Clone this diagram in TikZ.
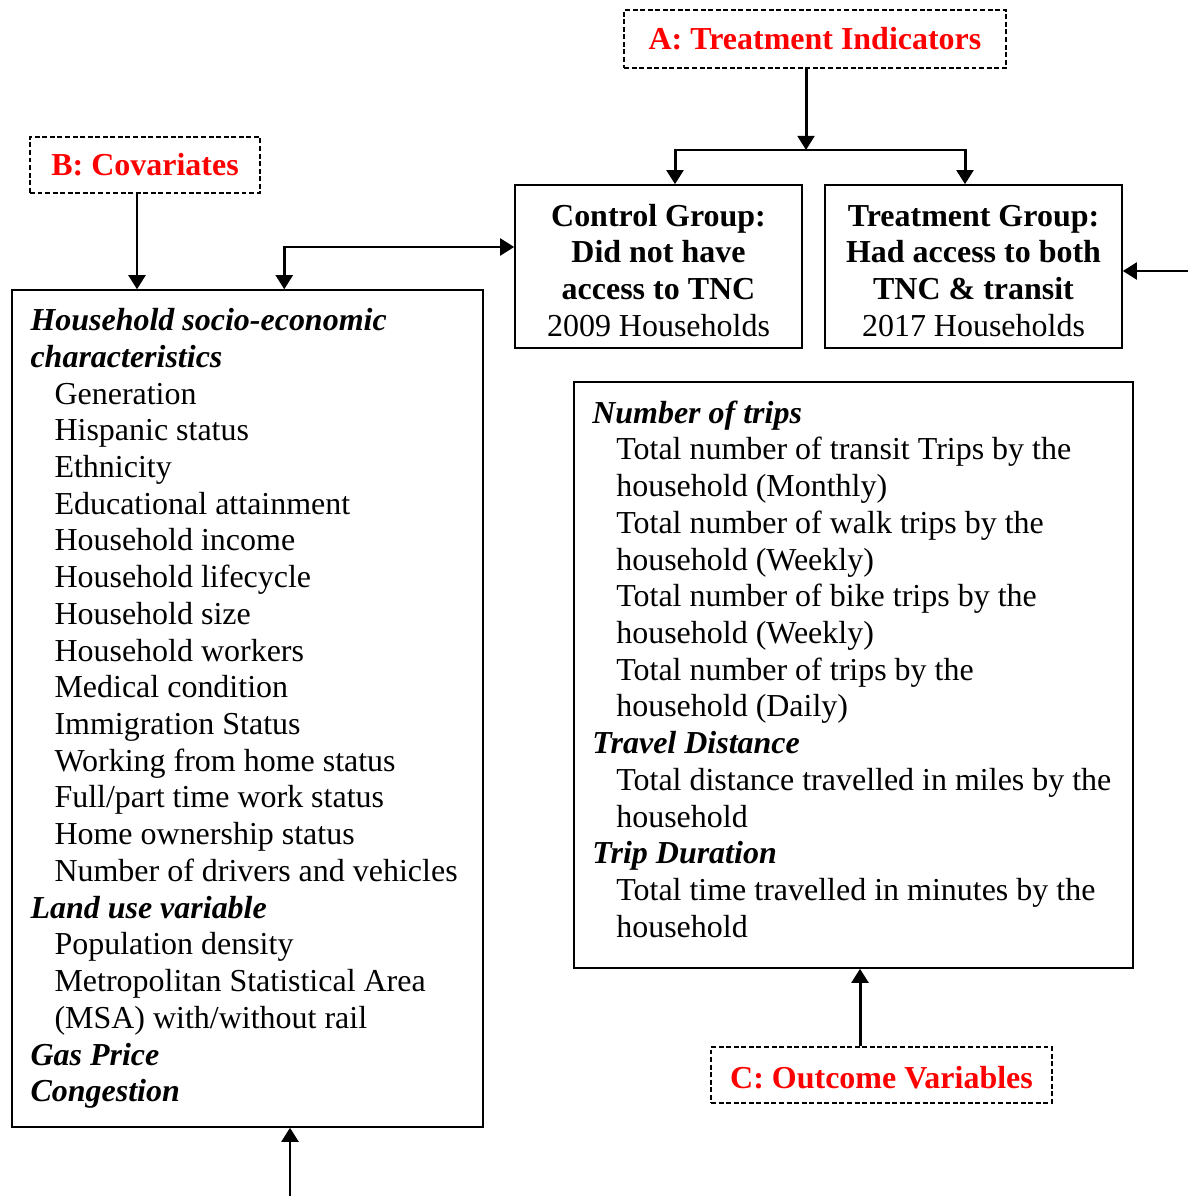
\documentclass[tikz,border=0pt]{standalone}
\usepackage{fontspec}
\setmainfont{Liberation Serif}
\usetikzlibrary{
    arrows.meta,
    calc,
    positioning
}
\tikzset{
    box/.style={draw, line width=0.9pt},
    tag/.style={draw, dash pattern=on 2.8pt off 1.5pt, line width=0.8pt, text=red, font=\fontsize{18.2}{20.9}\selectfont\bfseries},
    arr/.style={line width=1.7pt, -{Triangle[length=8pt, width=9.5pt]}},
    arrboth/.style={line width=1.7pt, {Triangle[length=8pt, width=9.5pt]}-{Triangle[length=8pt, width=9.5pt]}}
}
\newcommand{\ind}{\hspace*{0.48cm}}
\newcommand{\hd}[1]{\textbf{\textit{#1}}}
\newcommand{\plainsp}{\spaceskip=0pt\xspaceskip=0pt\relax}

\begin{document}
\begin{tikzpicture}[x=0.02cm, y=-0.02cm, font=\fontsize{18.2}{20.9}\selectfont]
    \useasboundingbox (0, 0) rectangle (1188, 1196);

    \node[tag, minimum width=7.64cm, minimum height=1.16cm] (A) at (815, 39) {A: Treatment Indicators};
    \node[tag, minimum width=4.6cm, minimum height=1.12cm] (B) at (145, 165) {B: Covariates};
    \node[tag, minimum width=6.82cm, minimum height=1.12cm] (C) at (881.5, 1075) {\rule{0pt}{0.55cm}C: Outcome Variables};

    \node[box, align=center, minimum width=5.74cm, minimum height=3.26cm] (ctrl) at (658.5, 266.5)
        {\rule{0pt}{0.6cm}\textbf{Control Group:}\\ \textbf{Did not have}\\ \textbf{access to TNC}\\ 2009 Households};
    \node[box, align=center, minimum width=5.94cm, minimum height=3.26cm] (trt) at (973.5, 266.5)
        {\rule{0pt}{0.6cm}\textbf{Treatment Group:}\\ \textbf{Had access to both}\\ \textbf{TNC \& transit}\\ 2017 Households};

    \node[box, align=left, text width=8.68cm, inner xsep=0.37cm, minimum height=16.74cm] (cov) at (247.5, 708.5) {\plainsp
        \hd{Household socio-economic}\\
        \hd{characteristics}\\
        \ind Generation\\
        \ind Hispanic status\\
        \ind Ethnicity\\
        \ind Educational attainment\\
        \ind Household income\\
        \ind Household lifecycle\\
        \ind Household size\\
        \ind Household workers\\
        \ind Medical condition\\
        \ind Immigration Status\\
        \ind Working from home status\\
        \ind Full/part time work status\\
        \ind Home ownership status\\
        \ind Number of drivers and vehicles\\
        \hd{Land use variable}\\
        \ind Population density\\
        \ind Metropolitan Statistical Area\\
        \ind (MSA) with/without rail\\
        \hd{Gas Price}\\
        \hd{Congestion}};

    \node[box, align=left, text width=10.45cm, inner xsep=0.365cm, minimum height=11.72cm] (out) at (853.5, 675) {\plainsp
        \hd{Number of trips}\\
        \ind Total number of transit Trips by the\\
        \ind household (Monthly)\\
        \ind Total number of walk trips by the\\
        \ind household (Weekly)\\
        \ind Total number of bike trips by the\\
        \ind household (Weekly)\\
        \ind Total number of trips by the\\
        \ind household (Daily)\\
        \hd{Travel Distance}\\
        \ind Total distance travelled in miles by the\\
        \ind household\\
        \hd{Trip Duration}\\
        \ind Total time travelled in minutes by the\\
        \ind household\rule[-0.24cm]{0pt}{0.24cm}};

    % free ends and turns
    \coordinate (split) at (806, 150);
    \coordinate (rin) at (1188, 271);
    \coordinate (bin) at (290, 1196);
    \path ($(B.south)+(-8, 0)$) coordinate (bdrop);
    \path ($(cov.north west)+(273, 0)$) coordinate (covtop);
    \path ($(C.north)+(-21.5, 0)$) coordinate (cup);

    \draw[arr] (A.south -| split) -- (split);
    \draw[arr] (split) -| ($(ctrl.north)+(16.5, 0)$);
    \draw[arr] (split) -| ($(trt.north)+(-8.5, 0)$);
    \draw[arr] (bdrop) -- (bdrop |- cov.north);
    \draw[arrboth] (covtop) |- ($(ctrl.west)+(0, -19.5)$);
    \draw[arr] (rin) -- (rin -| trt.east);
    \draw[arr] (bin) -- (bin |- cov.south);
    \draw[arr] (cup) -- (cup |- out.south);
\end{tikzpicture}
\end{document}
